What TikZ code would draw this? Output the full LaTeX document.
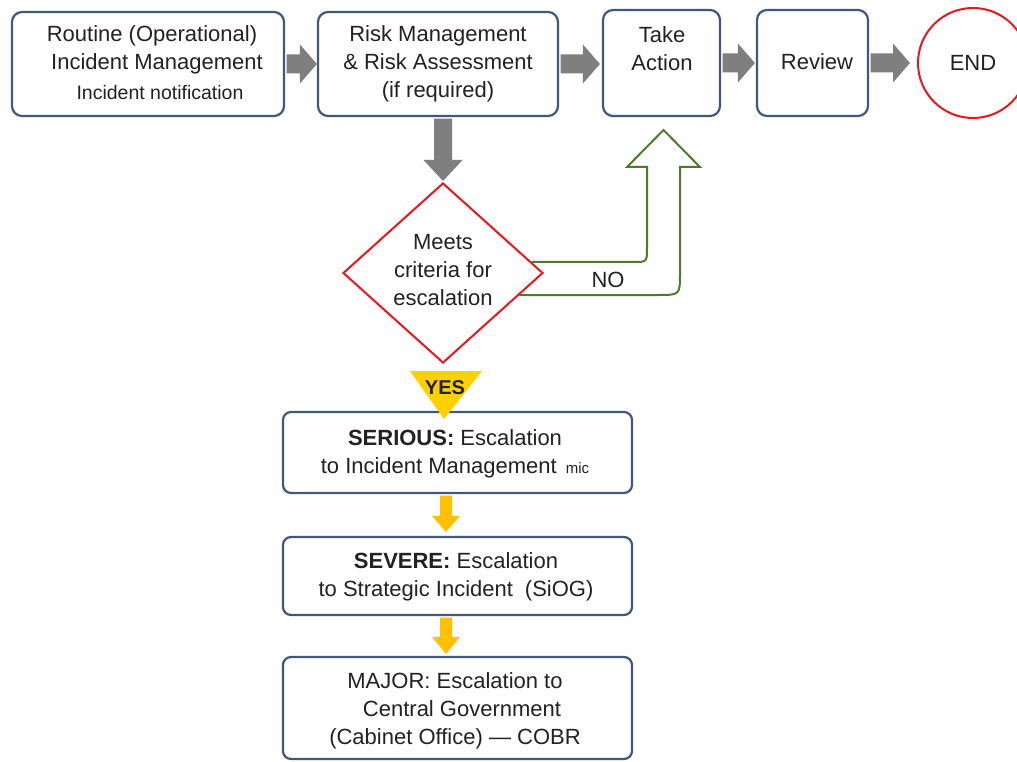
\documentclass[tikz,border=0pt]{standalone}
\usepackage{fontspec}
\setmainfont{Liberation Sans}
\usetikzlibrary{shapes.geometric,calc}
\definecolor{boxc}{HTML}{41587A}
\definecolor{txtc}{HTML}{222222}
\definecolor{grayc}{HTML}{7F7F7F}
\definecolor{redc}{HTML}{E8161E}
\definecolor{greenc}{HTML}{4E7A2E}
\definecolor{yelc}{HTML}{FFC000}
\definecolor{yesc}{HTML}{FFD000}
% horizontal block arrow: #1 start, #2 tip (y of #1 used), #3 shaft half, #4 head half, #5 head length
\newcommand\harrowpath[5]{let \p1=(#1), \p2=(#2) in
  (\x1,\y1-#3) -- (\x2-#5,\y1-#3) -- (\x2-#5,\y1-#4) -- (\x2,\y1) -- (\x2-#5,\y1+#4) -- (\x2-#5,\y1+#3) -- (\x1,\y1+#3) -- cycle}
% vertical (downward) block arrow: #1 start (y used), #2 tip (x and y used)
\newcommand\varrowpath[5]{let \p1=(#1), \p2=(#2) in
  (\x2-#3,\y1) -- (\x2-#3,\y2+#5) -- (\x2-#4,\y2+#5) -- (\x2,\y2) -- (\x2+#4,\y2+#5) -- (\x2+#3,\y2+#5) -- (\x2+#3,\y1) -- cycle}
\tikzset{
  box/.style={draw=boxc, line width=2.2pt, rounded corners=10pt, fill=white, inner sep=0pt},
  lowbox/.style={box, rounded corners=8pt, minimum width=349pt},
  txt/.style={text=txtc, font=\fontsize{22}{28}\selectfont, align=center, inner sep=0pt},
  smalltxt/.style={txt, font=\fontsize{19.5}{24}\selectfont},
}
\begin{document}
\begin{tikzpicture}[x=1pt,y=-1pt]
\useasboundingbox (0,0) rectangle (1017,762);
\clip (0,0) rectangle (1017,762);
\fill[white] (0,0) rectangle (1017,762);

% top row
\node[box, minimum width=272pt, minimum height=104pt] (b1) at (148,64) {};
\node[txt] (t1) at (152,50) {Routine (Operational)\\\hspace{10pt}Incident Management};
\node[smalltxt] (t1b) at (160,93) {Incident notification};

\node[box, minimum width=240pt, minimum height=104pt] (b2) at (438,64) {};
\node[txt] (t2) at (438,64) {Risk Management\\\& Risk Assessment\\(if required)};

\node[box, minimum width=117pt, minimum height=106pt] (b3) at (661.5,63) {};
\node[txt] (t3) at (662,49) {Take\\Action};

\node[box, minimum width=111pt, minimum height=106pt] (b4) at (812.5,63) {};
\node[txt] (t4) at (817,62) {Review};

\node[circle, draw=redc, line width=2pt, minimum size=110pt, inner sep=0pt, txt] (e) at (973,63) {END};

% gray block arrows
\fill[grayc] \harrowpath{$(b1.east)+(1.5,0)$}{b2.west}{9.5}{19.5}{17};
\fill[grayc] \harrowpath{$(b2.east)+(1.5,0)$}{$(b3.west)+(-2,0)$}{9.5}{19.5}{17};
\fill[grayc] \harrowpath{$(b3.east)+(1.5,0)$}{$(b4.west)+(-1,0)$}{9.5}{19.5}{17};
\fill[grayc] \harrowpath{$(b4.east)+(1.5,0)$}{$(e.west)+(-7,0)$}{9.5}{19.5}{17};

% diamond
\node[diamond, draw=redc, line width=2pt, minimum width=200pt, minimum height=180pt, inner sep=0pt, fill=white] (d) at (443,273) {};
\node[txt] (dt) at (443,270) {Meets\\criteria for\\escalation};
\fill[grayc] \varrowpath{$(b2.south)+(0,1.5)$}{$(d.north)+(0,-1)$}{9}{19.5}{21};

% NO hollow arrow
\coordinate (nolow) at ($(d.east)!0.244!(d.south)$);
\coordinate (noup) at ($(d.east)!0.122!(d.north)$);
\draw[greenc, line width=2pt, line join=miter]
  (nolow) -- (658,295) .. controls (680,295) .. (680,273) -- (680,167) -- (700,167)
  -- (663.5,130) -- (627,167) -- (647,167) -- (647,248) .. controls (647,262) .. (633,262) -- (noup);
\node[txt] (no) at (608,280) {NO};

% lower boxes
\node[lowbox, minimum height=81pt] (s1) at (457.5,452.5) {};
\node[txt] (st1) at (455,454) {\textbf{SERIOUS:} Escalation\\to Incident Management\hspace{9pt}{\fontsize{15}{15}\selectfont mic}};

\node[lowbox, minimum height=78pt] (s2) at (457.5,576) {};
\node[txt] (st2) at (456,576.5) {\textbf{SEVERE:} Escalation\\to Strategic Incident\hspace{12pt}(SiOG)};

\node[lowbox, minimum height=102pt] (s3) at (457.5,708) {};
\node[txt] (st3) at (455,711) {MAJOR: Escalation to\\\hspace{14pt}Central Government\\(Cabinet Office) — COBR};

% YES triangle
\fill[yesc] ($(d.south)+(-33,7)$) -- ($(d.south)+(39,7)$) -- ($(d.south)+(1,55)$) -- cycle;
\node[txt, font=\fontsize{20}{24}\selectfont\bfseries] (yes) at (445,388) {YES};

% yellow arrows
\fill[yelc] \varrowpath{$(s1.south)+(0,1.5)$}{$(s2.north)+(-11.5,-4)$}{6}{14}{16};
\fill[yelc] \varrowpath{$(s2.south)+(0,1.5)$}{$(s3.north)+(-11.5,-2)$}{6}{14}{17};
\end{tikzpicture}
\end{document}
